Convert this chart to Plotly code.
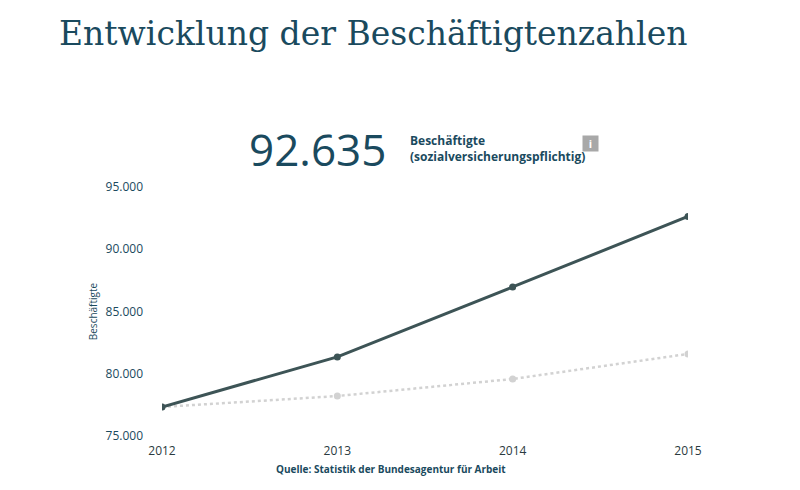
import plotly.graph_objects as go

## DATA
years = [2012, 2013, 2014, 2015]
beschaeftigte = [77330, 81350, 86970, 92635]
vergleich = [77330, 78210, 79580, 81590]
y_ticks = [75000, 80000, 85000, 90000, 95000]
y_labels = ["75.000", "80.000", "85.000", "90.000", "95.000"]

dark = "#3d5456"
blue = "#1a4a5e"

fig = go.Figure()
fig.add_trace(go.Scatter(x=years, y=vergleich, mode="lines+markers",
                         line=dict(color="#d2d2d2", width=2.5, dash="dot"),
                         marker=dict(color="#d2d2d2", size=7), hoverinfo="skip"))
fig.add_trace(go.Scatter(x=years, y=beschaeftigte, mode="lines+markers",
                         line=dict(color=dark, width=3),
                         marker=dict(color=dark, size=7)))

fig.update_layout(
    width=800, height=490, showlegend=False,
    paper_bgcolor="white", plot_bgcolor="white",
    margin=dict(l=154, r=120, t=179, b=62),
    font=dict(family="Open Sans", color=blue, size=12),
    xaxis=dict(range=[2012, 2015], tickvals=years, showgrid=False, zeroline=False,
               showline=False, ticks="", tickfont=dict(size=12, color="#2a3a40")),
    yaxis=dict(range=[75000, 95000], tickvals=y_ticks, ticktext=y_labels,
               showgrid=False, zeroline=False, ticks="", ticklabelstandoff=18,
               tickfont=dict(size=12),
               title=dict(text="Beschäftigte", font=dict(size=10), standoff=6)),
)
fig.update_xaxes(ticklabelstandoff=6)

fig.add_annotation(text="Entwicklung der Beschäftigtenzahlen", xref="paper", yref="paper",
                   x=-0.2, y=1.0, yshift=154, xanchor="left", yanchor="middle",
                   showarrow=False, font=dict(family="DejaVu Serif", size=33, color=blue))
fig.add_annotation(text="92.635", xref="paper", yref="paper", x=0.43, y=1.0, yshift=38,
                   xanchor="right", yanchor="middle", showarrow=False,
                   font=dict(family="Open Sans", size=44, color=blue))
fig.add_annotation(text="<b>Beschäftigte</b><br><b>(sozialversicherungspflichtig)</b>",
                   xref="paper", yref="paper", x=0.468, y=1.0, yshift=39, xanchor="left",
                   yanchor="middle", align="left", showarrow=False,
                   font=dict(size=12, color=blue))
fig.add_annotation(text="<b>i</b>", xref="paper", yref="paper", x=0.83, y=1.0, yshift=52,
                   showarrow=False, font=dict(size=11, color="white"),
                   bgcolor="#a8a8a8", borderpad=1, width=13, height=13)
fig.add_annotation(text="<b>Quelle: Statistik der Bundesagentur für Arbeit</b>",
                   xref="paper", yref="paper", x=0.435, y=0, yshift=-42, showarrow=False,
                   font=dict(size=10, color=blue))

fig.write_html("out.html")
